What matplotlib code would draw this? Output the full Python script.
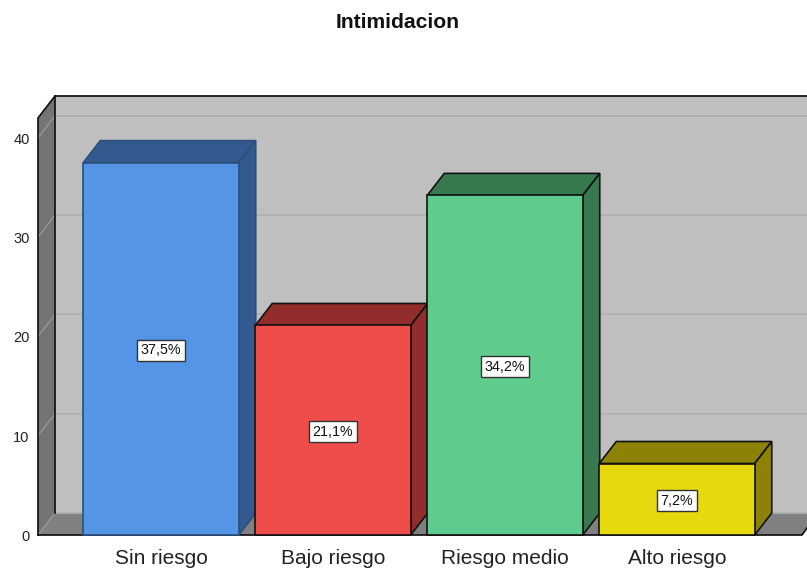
import matplotlib
matplotlib.use("Agg")
import matplotlib.pyplot as plt
from matplotlib.patches import Polygon

plt.rcParams['font.family'] = ['Liberation Sans', 'DejaVu Sans']

title = "Intimidacion"
categories = ["Sin riesgo", "Bajo riesgo", "Riesgo medio", "Alto riesgo"]
values = [37.5, 21.1, 34.2, 7.2]
labels = ["37,5%", "21,1%", "34,2%", "7,2%"]
y_ticks = [0, 10, 20, 30, 40]

front_colors = ["#5495e6", "#ef4c4c", "#5fcb8d", "#e6d90e"]
dark_colors = ["#335a8e", "#932c2c", "#38794f", "#8c8205"]
edge_colors = ["#2c4e7c", "#111111", "#111111", "#111111"]

W, H = 807, 569
fig = plt.figure(figsize=(W / 100, H / 100), dpi=100)
L, R, B, T = 38, 807, 535, 96
ax = fig.add_axes([L / W, (H - B) / H, (R - L) / W, (B - T) / H])
PX_X, PX_Y = 172.0, 9.93
ax.set_xlim((L - 161) / PX_X, (R - 161) / PX_X)
ax.set_ylim(0, (B - T) / PX_Y)
for s in ax.spines.values():
    s.set_visible(False)

dx = 17 / PX_X
dy = 22 / PX_Y
x0, x1 = ax.get_xlim()
ytop = ax.get_ylim()[1]
yf = ytop - dy

def poly(pts, fc, ec="none", lw=0.0, z=1):
    ax.add_patch(Polygon(pts, closed=True, facecolor=fc, edgecolor=ec, linewidth=lw,
                         zorder=z, clip_on=False, joinstyle="miter"))

# walls
poly([(x0 + dx, dy), (x0 + dx, ytop), (x1, ytop), (x1, dy)], "#bfbfbf", z=1)
poly([(x0, 0), (x0, yf), (x0 + dx, ytop), (x0 + dx, dy)], "#747474", z=1)
poly([(x0, 0), (x0 + dx, dy), (x1, dy), (x1, 7 / PX_Y), (x1 - 5 / PX_X, 0)], "#808080", z=1)

# gridlines
for v in y_ticks:
    ax.plot([x0 + dx, x1], [v + dy, v + dy], color="#b0b0b0", lw=1.2, zorder=1.5, clip_on=False)
    ax.plot([x0, x0 + dx], [v, v + dy], color="#9a9a9a", lw=0.9, zorder=1.5, clip_on=False)

# frame
line = dict(color="#111111", lw=1.25, zorder=2, clip_on=False, solid_capstyle="projecting")
ax.plot([x0, x0, x0 + dx, x1], [0, yf, ytop, ytop], **line)
ax.plot([x0 + dx, x0 + dx], [dy, ytop], **line)
ax.plot([x0, x1 - 5 / PX_X, x1], [0, 0, 7 / PX_Y], **line)

# bars
bar_w = 155.5 / PX_X
for i, v in enumerate(values):
    z = 3 + i
    l, r = i - bar_w / 2, i + bar_w / 2
    ec = edge_colors[i]
    poly([(l, v), (l + dx, v + dy), (r + dx, v + dy), (r, v)], dark_colors[i], ec, 1.2, z)
    poly([(r, 0), (r + dx, dy), (r + dx, v + dy), (r, v)], dark_colors[i], ec, 1.2, z)
    ax.bar(i, v, width=bar_w, color=front_colors[i], edgecolor=ec, linewidth=1.2,
           zorder=z + 0.1, clip_on=False)
    ax.text(i, v / 2, labels[i], ha="center", va="center_baseline", fontsize=10.3, color="#111111",
            zorder=z + 0.2,
            bbox=dict(boxstyle="square,pad=0.24", facecolor="white", edgecolor="#333333", linewidth=1.0))

ax.set_xticks(range(len(categories)))
ax.set_xticklabels(categories, fontsize=15, color="#222222")
ax.set_yticks(y_ticks)
ax.set_yticklabels([str(v) for v in y_ticks], fontsize=10.5, color="#222222", va="top")
for t in ax.get_yticklabels():
    t.set_verticalalignment("center")
    t.set_y(t.get_position()[1])
ax.tick_params(axis="x", length=0, pad=10)
ax.tick_params(axis="y", length=0, pad=6)
ax.set_axisbelow(True)
# tick text sits about 2 px below the tick position in the reference
from matplotlib.transforms import ScaledTranslation
off = ScaledTranslation(0, -2 / 100, fig.dpi_scale_trans)
for t in ax.get_yticklabels():
    t.set_transform(t.get_transform() + off)

fig.text(397.5 / W, 1 - 22.5 / H, title, ha="center", va="center", fontsize=15.2, fontweight="bold", color="#111111")
fig.savefig("out.png", dpi=100, facecolor="white")
